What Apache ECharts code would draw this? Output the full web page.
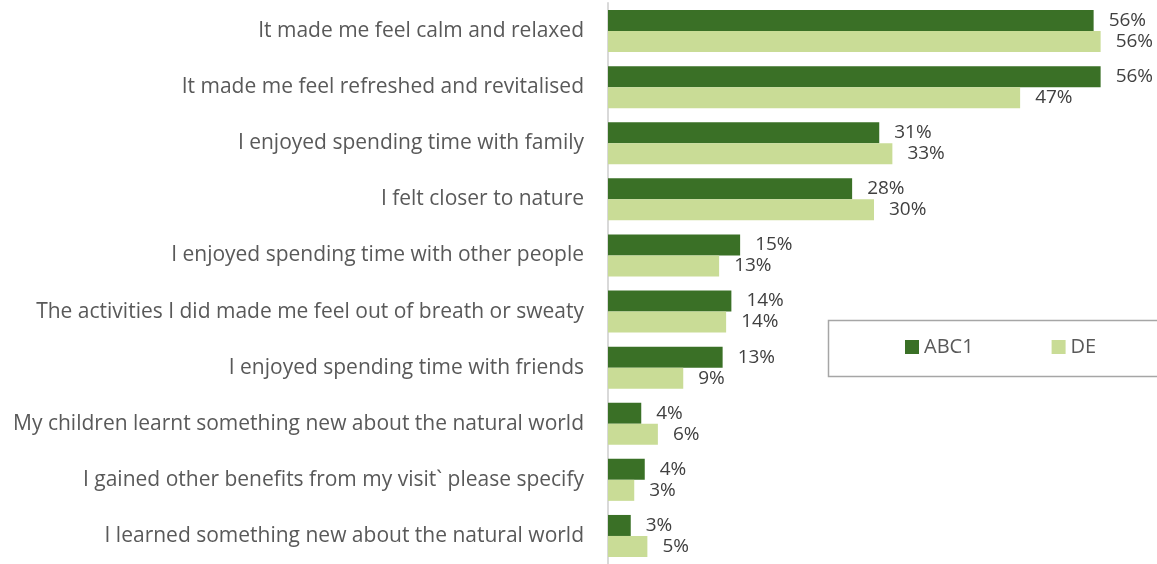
<!DOCTYPE html>
<html>
<head>
<meta charset="utf-8">
<script src="https://cdn.jsdelivr.net/npm/echarts@6/dist/echarts.min.js"></script>
<style>html,body{margin:0;padding:0;background:#fff;}#c{width:1157px;height:564px;}</style>
</head>
<body>
<div id="c"></div>
<script>
const categories = [
  "It made me feel calm and relaxed",
  "It made me feel refreshed and revitalised",
  "I enjoyed spending time with family",
  "I felt closer to nature",
  "I enjoyed spending time with other people",
  "The activities I did made me feel out of breath or sweaty",
  "I enjoyed spending time with friends",
  "My children learnt something new about the natural world",
  "I gained other benefits from my visit` please specify",
  "I learned something new about the natural world"
];
const abc1 = [55.5, 56.3, 31.0, 27.9, 15.1, 14.1, 13.1, 3.8, 4.2, 2.6];
const de = [56.3, 47.1, 32.5, 30.4, 12.7, 13.5, 8.6, 5.7, 3.0, 4.5];
const seriesNames = ["ABC1", "DE"];
const colors = ["#3a7026", "#c9dc96"];
const FONT = "Open Sans";

const chart = echarts.init(document.getElementById('c'));
const labelCfg = {
  show: true, position: 'right', distance: 15,
  color: '#404040', fontSize: 19, fontFamily: FONT,
  formatter: p => Math.round(p.value) + '%'
};
chart.setOption({
  animation: false,
  grid: { left: 608, top: 3, width: 525, height: 564, containLabel: false },
  xAxis: {
    type: 'value', min: 0, max: 60, show: false
  },
  yAxis: {
    type: 'category', data: categories, inverse: true,
    axisLine: { show: true, lineStyle: { color: '#d9d9d9', width: 2 } },
    axisTick: { show: false },
    axisLabel: { margin: 24, color: '#595959', fontSize: 21, fontFamily: FONT }
  },
  graphic: [{
    type: 'rect', left: 826, top: 318,
    shape: { width: 345, height: 56 },
    style: { fill: 'none', stroke: '#a6a6a6', lineWidth: 1.5 },
    silent: true
  }],
  legend: {
    data: seriesNames,
    left: 905, top: 337,
    padding: 0,
    itemWidth: 14, itemHeight: 14, itemGap: 78,
    icon: 'rect',
    textStyle: { color: '#595959', fontSize: 20, fontFamily: FONT }
  },
  series: [
    { name: seriesNames[0], type: 'bar', data: abc1, barWidth: 21, barGap: '0%',
      itemStyle: { color: colors[0] }, label: labelCfg },
    { name: seriesNames[1], type: 'bar', data: de, barWidth: 21, barGap: '0%',
      itemStyle: { color: colors[1] }, label: labelCfg }
  ]
});
</script>
</body>
</html>
